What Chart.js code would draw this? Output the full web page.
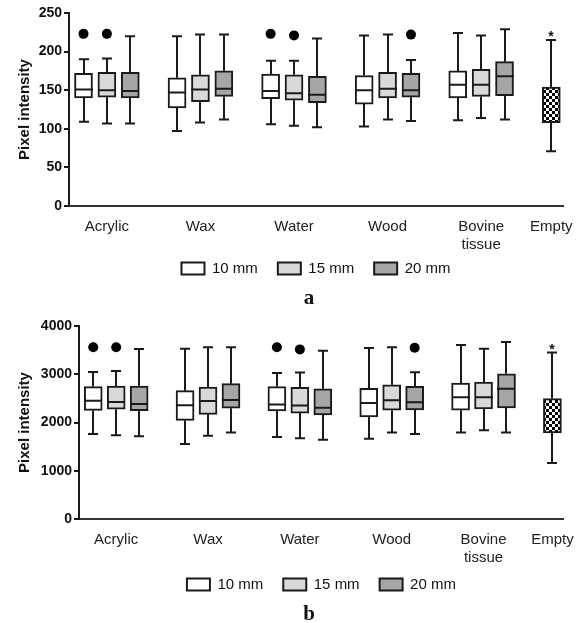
<!DOCTYPE html>
<html>
<head>
<meta charset="utf-8">
<script src="https://cdn.jsdelivr.net/npm/chart.js@4/dist/chart.umd.min.js"></script>
<style>
  body { margin: 0; background: #fff; width: 586px; height: 623px; overflow: hidden; position: relative; }
  canvas { position: absolute; left: 0; }
  .tag { position: absolute; left: 0; width: 618px; text-align: center; font: bold 21px "Liberation Serif", "DejaVu Serif", serif; line-height: 21px; color: #111; }
</style>
</head>
<body>
<canvas id="chartA" width="586" height="286" style="top:0"></canvas>
<div class="tag" style="top:287px">a</div>
<canvas id="chartB" width="586" height="292" style="top:310px"></canvas>
<div class="tag" style="top:603px">b</div>
<script>
// categories along the x axis (Bovine tissue wraps on two lines)
const categories = ["Acrylic", "Wax", "Water", "Wood", ["Bovine", "tissue"], "Empty"];
const seriesLabels = ["10 mm", "15 mm", "20 mm"];
const significance = ["", "", "", "", "", "*"];

// panel a - each box is [min, q1, median, q3, max]
const a10mm = [[109, 140, 151, 172, 190], [97, 127, 147, 166, 220], [106, 139, 149, 171, 188], [103, 132, 150, 169, 221], [111, 140, 157, 175, 224], null];
const a15mm = [[107, 141, 150, 173, 191], [108, 135, 151, 170, 222], [104, 137, 146, 170, 188], [112, 140, 152, 173, 222], [114, 142, 157, 177, 221], null];
const a20mm = [[107, 140, 149, 173, 220], [112, 142, 152, 175, 222], [102, 134, 144, 168, 217], [110, 141, 150, 172, 189], [112, 143, 168, 187, 229], null];
const aEmpty = [null, null, null, null, null, [71, 108, null, 154, 215]];
const aOut10 = [223, null, 223, null, null, null];
const aOut15 = [223, null, 221, null, null, null];
const aOut20 = [null, null, null, 222, null, null];

// panel b
const b10mm = [[1760, 2250, 2450, 2745, 3045], [1555, 2045, 2355, 2660, 3530], [1700, 2240, 2375, 2745, 3025], [1665, 2115, 2405, 2710, 3545], [1795, 2255, 2525, 2815, 3605], null];
const b15mm = [[1735, 2275, 2425, 2755, 3065], [1725, 2170, 2445, 2735, 3560], [1675, 2195, 2350, 2730, 3035], [1795, 2255, 2460, 2780, 3560], [1840, 2280, 2525, 2840, 3530], null];
const b20mm = [[1715, 2245, 2385, 2755, 3525], [1795, 2295, 2465, 2805, 3560], [1645, 2155, 2305, 2700, 3485], [1760, 2260, 2420, 2750, 3040], [1795, 2300, 2700, 3010, 3670], null];
const bEmpty = [null, null, null, null, null, [1160, 1785, null, 2495, 3450]];
const bOut10 = [3560, null, 3560, null, null, null];
const bOut15 = [3560, null, 3515, null, null, null];
const bOut20 = [null, null, null, 3550, null, null];

const fontFamily = '"Liberation Sans", Arial, sans-serif';
const ink = "#1a1a1a";

// each group gets 4 slots: 3 boxes + a gap
function slotX(group, series) {
    return group * 4 + series;
}

function checkerPattern() {
    const c = document.createElement("canvas");
    c.width = 6;
    c.height = 6;
    const g = c.getContext("2d");
    g.fillStyle = "#000";
    g.fillRect(0, 0, 6, 6);
    g.fillStyle = "#fff";
    g.fillRect(0, 0, 3, 3);
    g.fillRect(3, 3, 3, 3);
    return g.createPattern(c, "repeat");
}

function boxDataset(label, boxes, series, fill) {
    const data = [];
    boxes.forEach((b, g) => {
        if (b) data.push({ x: slotX(g, series), y: [b[1], b[3]], box: b, group: g });
    });
    return {
        type: "bar", label: label, data: data,
        backgroundColor: fill, borderColor: ink, borderWidth: 2,
        borderSkipped: false, barThickness: 18, grouped: false, order: 2
    };
}

function outlierDataset(values, series) {
    const data = [];
    values.forEach((v, g) => {
        if (v != null) data.push({ x: slotX(g, series), y: v });
    });
    return {
        type: "scatter", label: "", data: data,
        pointRadius: 5, pointBackgroundColor: "#000", pointBorderWidth: 0, order: 1
    };
}

// whiskers, caps, medians and the significance mark
const whiskerPlugin = {
    id: "whiskers",
    afterDatasetsDraw(chart) {
        const ctx = chart.ctx;
        const xs = chart.scales.x, ys = chart.scales.y;
        const groupTop = {};
        ctx.save();
        ctx.strokeStyle = ink;
        ctx.lineWidth = 2;
        chart.data.datasets.forEach(ds => {
            if (ds.type !== "bar") return;
            ds.data.forEach(p => {
                const b = p.box;
                const x = Math.round(xs.getPixelForValue(p.x));
                const yMin = ys.getPixelForValue(b[0]);
                const yQ1 = ys.getPixelForValue(b[1]);
                const yQ3 = ys.getPixelForValue(b[3]);
                const yMax = ys.getPixelForValue(b[4]);
                ctx.beginPath();
                ctx.moveTo(x, yQ3); ctx.lineTo(x, yMax);
                ctx.moveTo(x, yQ1); ctx.lineTo(x, yMin);
                ctx.moveTo(x - 5, yMax); ctx.lineTo(x + 5, yMax);
                ctx.moveTo(x - 5, yMin); ctx.lineTo(x + 5, yMin);
                if (b[2] != null) {
                    const yMed = ys.getPixelForValue(b[2]);
                    ctx.moveTo(x - 9, yMed); ctx.lineTo(x + 9, yMed);
                }
                ctx.stroke();
                if (groupTop[p.group] == null || yMax < groupTop[p.group].y) {
                    groupTop[p.group] = { x: x, y: yMax };
                }
            });
        });
        ctx.fillStyle = "#111";
        ctx.font = "bold 14px " + fontFamily;
        ctx.textAlign = "center";
        ctx.textBaseline = "alphabetic";
        significance.forEach((mark, g) => {
            if (mark && groupTop[g]) ctx.fillText(mark, groupTop[g].x, groupTop[g].y + 1);
        });
        ctx.restore();
    }
};

function makeChart(canvasId, boxes, outliers, empty, yMax, yStep, layout) {
    const fills = ["#ffffff", "#d9d9d9", "#a6a6a6"];
    const datasets = [];
    boxes.forEach((b, i) => datasets.push(boxDataset(seriesLabels[i], b, i, fills[i])));
    datasets.push(boxDataset("Empty", empty, 0, checkerPattern()));
    outliers.forEach((o, i) => datasets.push(outlierDataset(o, i)));

    // tick under each group = centre of its boxes
    const tickPos = categories.map((c, g) => {
        const xs = [];
        boxes.concat([empty]).forEach((b, i) => { if (b[g]) xs.push(slotX(g, b === empty ? 0 : i)); });
        return xs.reduce((s, v) => s + v, 0) / xs.length;
    });

    return new Chart(document.getElementById(canvasId), {
        type: "bar",
        data: { datasets: datasets },
        options: {
            responsive: false,
            animation: false,
            layout: { padding: { top: layout.top, right: layout.right, left: 0, bottom: 0 } },
            plugins: {
                tooltip: { enabled: false },
                legend: {
                    position: "bottom",
                    fullSize: false,
                    labels: {
                        filter: item => seriesLabels.includes(item.text),
                        boxWidth: 23, boxHeight: 12, padding: 20,
                        color: "#111",
                        font: { size: 15, family: fontFamily }
                    }
                }
            },
            scales: {
                x: {
                    type: "linear",
                    offset: false,
                    min: -0.62, max: 20.5,
                    grid: { display: false, drawTicks: false },
                    border: { color: "#333", width: 2 },
                    afterBuildTicks: s => { s.ticks = tickPos.map(v => ({ value: v })); },
                    afterFit: s => {
                        s.height = layout.xHeight;
                        // let the two-line label run into the legend band
                        s._computeLabelArea = () => undefined;
                    },
                    ticks: {
                        autoSkip: false, maxRotation: 0, padding: 12,
                        color: "#222",
                        font: { size: 15, family: fontFamily, lineHeight: 1.2 },
                        callback: (v, i) => categories[i]
                    }
                },
                y: {
                    min: 0, max: yMax,
                    ticks: {
                        stepSize: yStep, padding: 2, color: "#111",
                        font: { size: 14, weight: "bold", family: fontFamily },
                        callback: v => String(v)
                    },
                    grid: { drawOnChartArea: false, tickLength: 5, color: ink, lineWidth: 2 },
                    border: { color: ink, width: 2 },
                    title: {
                        display: true, text: "Pixel intensity", color: "#111",
                        font: { size: 15, weight: "bold", family: fontFamily },
                        padding: { top: 16, bottom: 0 }
                    },
                    afterFit: s => { s.width = layout.yWidth; }
                }
            }
        },
        plugins: [whiskerPlugin]
    });
}

makeChart("chartA", [a10mm, a15mm, a20mm], [aOut10, aOut15, aOut20], aEmpty, 250, 50,
    { top: 13, right: 23, yWidth: 69, xHeight: 35 });
makeChart("chartB", [b10mm, b15mm, b20mm], [bOut10, bOut15, bOut20], bEmpty, 4000, 1000,
    { top: 16, right: 14, yWidth: 79, xHeight: 38 });
</script>
</body>
</html>
